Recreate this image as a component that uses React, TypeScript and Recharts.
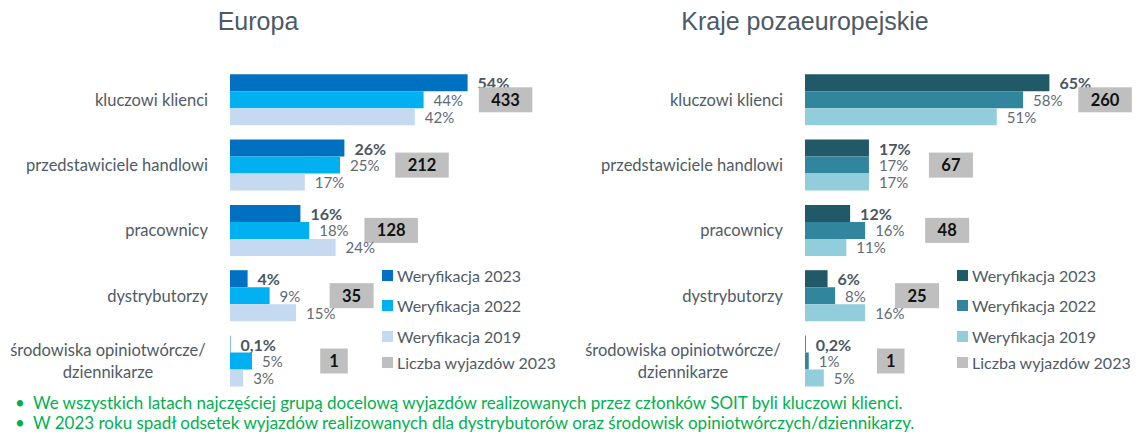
import React from 'react';
import { BarChart, Bar, XAxis, YAxis, LabelList, Legend } from 'recharts';

const categories = [
  'kluczowi klienci',
  'przedstawiciele handlowi',
  'pracownicy',
  'dystrybutorzy',
  'środowiska opiniotwórcze/\ndziennikarze',
];

// Europa
const euro2023 = [54, 26, 16, 4, 0.1];
const euro2022 = [44, 25, 18, 9, 5];
const euro2019 = [42, 17, 24, 15, 3];
const euroTrips = [433, 212, 128, 35, 1];

// Kraje pozaeuropejskie
const other2023 = [65, 17, 12, 6, 0.2];
const other2022 = [58, 17, 16, 8, 1];
const other2019 = [51, 17, 11, 16, 5];
const otherTrips = [260, 67, 48, 25, 1];

const seriesNames = ['Weryfikacja 2023', 'Weryfikacja 2022', 'Weryfikacja 2019'];
const tripsName = 'Liczba wyjazdów 2023';

const bullets = [
  'We wszystkich latach najczęściej grupą docelową wyjazdów realizowanych przez członków SOIT byli kluczowi klienci.',
  'W 2023 roku spadł odsetek wyjazdów realizowanych dla dystrybutorów oraz środowisk opiniotwórczych/dziennikarzy.',
];

const TEXT = '#4f5b66';
const FONT = 'Lato, "Open Sans", sans-serif';

const fmtPct = (v: number) => `${String(v).replace('.', ',')}%`;

const CategoryTick = (props: any) => {
  const { x, y, payload } = props;
  const lines = String(payload.value).split('\n');
  if (lines.length === 1) {
    return (
      <text x={x} y={y} textAnchor="end" dominantBaseline="central" fontSize={16.5} fill={TEXT} fontFamily={FONT}>
        {lines[0]}
      </text>
    );
  }
  // two-line label is centred like in Excel
  const cx = x - (lines[0].length * 8) / 2;
  return (
    <text textAnchor="middle" dominantBaseline="central" fontSize={16.5} fill={TEXT} fontFamily={FONT}>
      {lines.map((l, i) => (
        <tspan key={i} x={cx} y={y + (i - (lines.length - 1) / 2) * 22}>
          {l}
        </tspan>
      ))}
    </text>
  );
};

const valueLabel = (bold: boolean) => (props: any) => {
  const { x, y, width, height, value } = props;
  return (
    <text
      x={x + width + 10}
      y={y + height / 2}
      dominantBaseline="central"
      fontSize={bold ? 16 : 15}
      fontWeight={bold ? 700 : 400}
      fill={bold ? '#4a5663' : '#5f6a75'}
      fontFamily={FONT}
    >
      {fmtPct(value)}
    </text>
  );
};

const TripsBox = (props: any) => {
  const { x, y, width, height, value } = props;
  const s = String(value);
  const w = s.length * 9.5 + (s.length > 1 ? 25 : 18);
  const cx = x + width + 82;
  const cy = y + height / 2;
  return (
    <g>
      <rect x={cx - w / 2} y={cy - 12.5} width={w} height={25} fill="#BFBFBF" />
      <text x={cx} y={cy} textAnchor="middle" dominantBaseline="central" fontSize={16.5} fontWeight={700} fill="#111" fontFamily={FONT}>
        {s}
      </text>
    </g>
  );
};

const legendContent = (props: any) => {
  const payload = props.payload || [];
  const items = [
    ...seriesNames.map((n) => ({ name: n, color: (payload.find((p: any) => p.value === n) || {}).color })),
    { name: tripsName, color: '#BFBFBF' },
  ];
  const tops = [0, 30, 61, 87];
  return (
    <div style={{ position: 'relative', width: 190, height: 100, fontFamily: FONT }}>
      {items.map((it, i) => (
        <div key={i} style={{ position: 'absolute', left: 0, top: tops[i], height: 20, display: 'flex', alignItems: 'center', whiteSpace: 'nowrap' }}>
          <span style={{ display: 'inline-block', width: 11, height: 11, background: it.color, marginRight: 4 }} />
          <span style={{ fontSize: 16, color: TEXT }}>{it.name}</span>
        </div>
      ))}
    </div>
  );
};

interface RegionProps {
  v2023: number[];
  v2022: number[];
  v2019: number[];
  trips: number[];
  colors: string[];
  width: number;
  axisWidth: number;
  domainMax: number;
  marginRight: number;
  legendLeft: number;
}

const RegionChart: React.FC<RegionProps> = ({ v2023, v2022, v2019, trips, colors, width, axisWidth, domainMax, marginRight, legendLeft }) => {
  const data = categories.map((name, i) => ({
    name,
    v2023: v2023[i],
    v2022: v2022[i],
    v2019: v2019[i],
    trips: trips[i],
  }));
  return (
    <BarChart
      width={width}
      height={400}
      data={data}
      layout="vertical"
      margin={{ top: 67, right: marginRight, bottom: 6.5, left: 0 }}
      barCategoryGap={7.3}
      barGap={0}
    >
      <XAxis type="number" domain={[0, domainMax]} hide />
      <YAxis
        type="category"
        dataKey="name"
        width={axisWidth}
        axisLine={false}
        tickLine={false}
        tickSize={0}
        tickMargin={22}
        interval={0}
        tick={<CategoryTick />}
      />
      <Legend
        layout="vertical"
        align="center"
        verticalAlign="middle"
        wrapperStyle={{ left: legendLeft, top: 265, width: 190 }}
        content={legendContent}
      />
      <Bar dataKey="v2023" name={seriesNames[0]} fill={colors[0]} isAnimationActive={false}>
        <LabelList dataKey="v2023" content={valueLabel(true)} />
      </Bar>
      <Bar dataKey="v2022" name={seriesNames[1]} fill={colors[1]} isAnimationActive={false}>
        <LabelList dataKey="v2022" content={valueLabel(false)} />
        <LabelList dataKey="trips" content={<TripsBox />} />
      </Bar>
      <Bar dataKey="v2019" name={seriesNames[2]} fill={colors[2]} isAnimationActive={false}>
        <LabelList dataKey="v2019" content={valueLabel(false)} />
      </Bar>
    </BarChart>
  );
};

const titleStyle: React.CSSProperties = {
  position: 'absolute',
  top: 9,
  fontFamily: '"Liberation Sans", Arial, sans-serif',
  fontSize: 25,
  lineHeight: '25px',
  color: '#4d5a66',
  textAlign: 'center',
  width: 400,
};

export default function App() {
  return (
    <div style={{ position: 'absolute', left: 0, top: 0, width: 1142, height: 434, background: '#fff', overflow: 'hidden', fontFamily: FONT }}>
      <div style={{ ...titleStyle, left: 258 - 200 }}>Europa</div>
      <div style={{ ...titleStyle, left: 805 - 200 }}>Kraje pozaeuropejskie</div>

      <div style={{ position: 'absolute', left: 0, top: 0 }}>
        <RegionChart
          v2023={euro2023}
          v2022={euro2022}
          v2019={euro2019}
          trips={euroTrips}
          colors={['#0070C0', '#00B0F0', '#C5D9F1']}
          width={570}
          axisWidth={230}
          domainMax={70}
          marginRight={32}
          legendLeft={382}
        />
      </div>
      <div style={{ position: 'absolute', left: 570, top: 0 }}>
        <RegionChart
          v2023={other2023}
          v2022={other2022}
          v2019={other2019}
          trips={otherTrips}
          colors={['#215968', '#31859C', '#92CDDC']}
          width={572}
          axisWidth={235}
          domainMax={80}
          marginRight={36.2}
          legendLeft={387}
        />
      </div>

      <div style={{ position: 'absolute', left: 0, top: 393, color: '#00B050', fontSize: 17, lineHeight: '20px' }}>
        {bullets.map((b, i) => (
          <div key={i} style={{ position: 'relative', paddingLeft: 33, whiteSpace: 'nowrap' }}>
            <span style={{ position: 'absolute', left: 15 }}>•</span>
            {b}
          </div>
        ))}
      </div>
    </div>
  );
}
